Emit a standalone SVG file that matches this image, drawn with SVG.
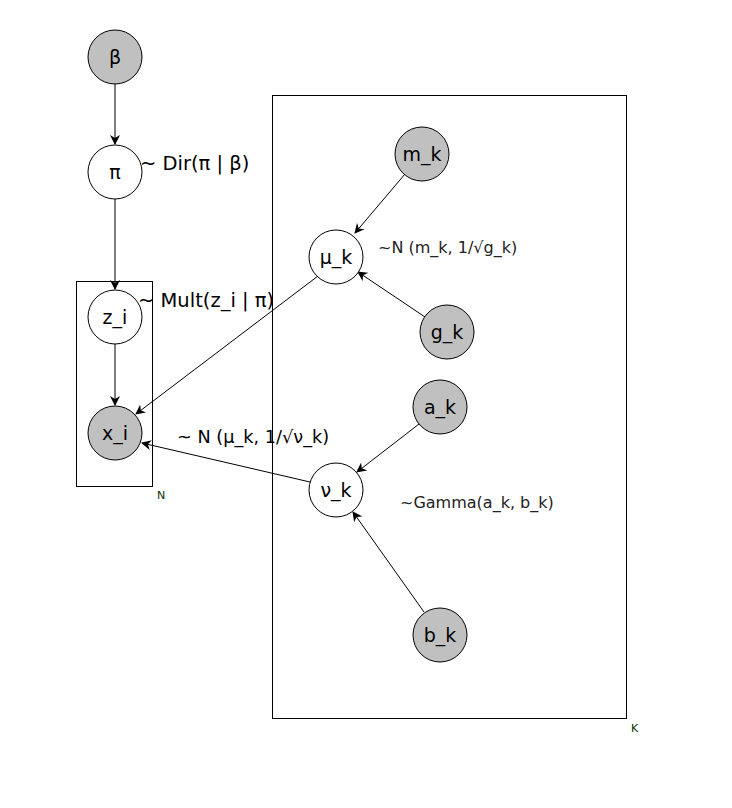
<svg xmlns="http://www.w3.org/2000/svg" width="732" height="808" viewBox="0 0 732 808">
  <style>
    .obs { fill: #c0c0c0; stroke: #000; stroke-width: 1; }
    .lat { fill: #fff; stroke: #000; stroke-width: 1; }
    .plate { fill: none; stroke: #000; stroke-width: 1; }
    .lbl { font-family: "DejaVu Sans", sans-serif; font-size: 19px; fill: #000; text-anchor: middle; dominant-baseline: central; }
    .dist { font-family: "DejaVu Sans", sans-serif; font-size: 19.5px; fill: #000; }
    .dist-sm { font-size: 17.7px; }
    .dsm { font-family: "DejaVu Sans", sans-serif; font-size: 16px; fill: #222; }
    .pl { font-family: "DejaVu Sans", sans-serif; font-size: 11px; fill: #003300; }
    .edge { stroke: #000; stroke-width: 1; fill: none; marker-end: url(#arr); }
  </style>
  <defs>
    <marker id="arr" viewBox="0 0 10 10" refX="9" refY="5" markerWidth="10" markerHeight="10" markerUnits="userSpaceOnUse" orient="auto">
      <path d="M0,0 L10,5 L0,10 L3,5 Z" fill="#000"/>
    </marker>
  </defs>
  <rect width="732" height="808" fill="#fff"/>

  <!-- plates -->
  <g id="plates">
    <rect class="plate" x="76.5" y="281.5" width="76" height="205"/>
    <text class="pl" x="157" y="499">N</text>
    <rect class="plate" x="272.5" y="95.5" width="354" height="623"/>
    <text class="pl" x="631" y="732">K</text>
  </g>

  <!-- connectors -->
  <g id="connectors">
    <line class="edge" x1="115" y1="84" x2="115" y2="144"/>
    <line class="edge" x1="115" y1="199" x2="115" y2="289"/>
    <line class="edge" x1="115" y1="344" x2="115" y2="405"/>
    <line class="edge" x1="318" y1="276" x2="136" y2="414"/>
    <line class="edge" x1="310" y1="482" x2="142" y2="443"/>
    <line class="edge" x1="405" y1="174" x2="355" y2="233"/>
    <line class="edge" x1="425" y1="317" x2="358" y2="272"/>
    <line class="edge" x1="419" y1="424" x2="357" y2="472"/>
    <line class="edge" x1="424" y1="612" x2="353" y2="512"/>
  </g>

  <!-- nodes -->
  <g id="node-beta"><circle class="obs" cx="115" cy="57" r="27"/><text class="lbl" x="115" y="57">β</text></g>
  <g id="node-pi"><circle class="lat" cx="115" cy="172" r="27"/><text class="lbl" x="115" y="172">π</text></g>
  <g id="node-z"><circle class="lat" cx="115" cy="317" r="27"/><text class="lbl" x="115" y="317">z_i</text></g>
  <g id="node-x"><circle class="obs" cx="115" cy="433" r="27"/><text class="lbl" x="115" y="433">x_i</text></g>
  <g id="node-m"><circle class="obs" cx="422" cy="154" r="27"/><text class="lbl" x="422" y="154">m_k</text></g>
  <g id="node-mu"><circle class="lat" cx="336" cy="257" r="27"/><text class="lbl" x="336" y="257">μ_k</text></g>
  <g id="node-g"><circle class="obs" cx="447" cy="332" r="27"/><text class="lbl" x="447" y="332">g_k</text></g>
  <g id="node-a"><circle class="obs" cx="440" cy="407" r="27"/><text class="lbl" x="440" y="407">a_k</text></g>
  <g id="node-nu"><circle class="lat" cx="336" cy="490" r="27"/><text class="lbl" x="336" y="490">ν_k</text></g>
  <g id="node-b"><circle class="obs" cx="440" cy="635" r="27"/><text class="lbl" x="440" y="635">b_k</text></g>

  <!-- distribution labels -->
  <g id="labels">
    <text class="dist" x="140" y="170">~ Dir(π | β)</text>
    <text class="dist" x="138" y="307">~ Mult(z_i | π)</text>
    <text class="dist dist-sm" x="177" y="443">~ N (μ_k, 1/√ν_k)</text>
    <text class="dsm" x="378" y="253">~N (m_k, 1/√g_k)</text>
    <text class="dsm" x="400" y="508">~Gamma(a_k, b_k)</text>
  </g>
</svg>
